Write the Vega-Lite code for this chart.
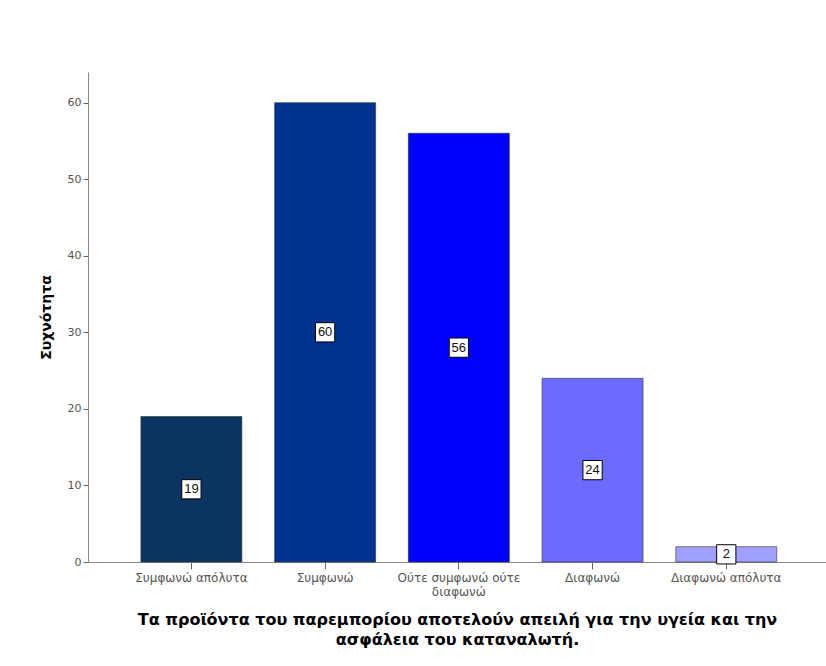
{
  "$schema": "https://vega.github.io/schema/vega-lite/v6.json",
  "autosize": "none",
  "width": 738,
  "height": 490,
  "padding": {"left": 88, "top": 72, "right": 0, "bottom": 104},
  "background": "white",
  "data": {
    "values": [
      {"answer": "Συμφωνώ απόλυτα", "count": 19},
      {"answer": "Συμφωνώ", "count": 60},
      {"answer": "Ούτε συμφωνώ ούτε διαφωνώ", "count": 56},
      {"answer": "Διαφωνώ", "count": 24},
      {"answer": "Διαφωνώ απόλυτα", "count": 2}
    ]
  },
  "transform": [{"calculate": "datum.count / 2", "as": "mid"}],
  "encoding": {
    "x": {
      "field": "answer",
      "type": "nominal",
      "sort": null,
      "scale": {"paddingInner": 0.245, "paddingOuter": 0.382, "align": 0.518},
      "axis": {
        "labelAngle": 0,
        "labelExpr": "datum.label == 'Ούτε συμφωνώ ούτε διαφωνώ' ? ['Ούτε συμφωνώ ούτε', 'διαφωνώ'] : datum.label",
        "labelFont": "DejaVu Sans",
        "labelFontSize": 12,
        "labelColor": "#555555",
        "labelPadding": 3,
        "labelLineHeight": 14,
        "tickSize": 7,
        "tickColor": "#666666",
        "domainColor": "#888888",
        "title": ["Τα προϊόντα του παρεμπορίου αποτελούν απειλή για την υγεία και την", "ασφάλεια του καταναλωτή."],
        "titleFont": "DejaVu Sans",
        "titleFontSize": 16,
        "titleFontWeight": "bold",
        "titleColor": "#000000",
        "titlePadding": 14,
        "titleLineHeight": 20
      }
    }
  },
  "layer": [
    {
      "mark": {"type": "bar", "stroke": "#333333", "strokeWidth": 0.6},
      "encoding": {
        "y": {
          "field": "count",
          "type": "quantitative",
          "scale": {"domain": [0, 64], "nice": false},
          "axis": {
            "values": [0, 10, 20, 30, 40, 50, 60],
            "grid": false,
            "labelFont": "DejaVu Sans",
            "labelFontSize": 11,
            "labelColor": "#555555",
            "tickSize": 5,
            "tickColor": "#666666",
            "domainColor": "#888888",
            "title": "Συχνότητα",
            "titleFont": "DejaVu Sans",
            "titleFontSize": 14,
            "titleFontWeight": "bold",
            "titleColor": "#000000",
            "titlePadding": 14
          }
        },
        "color": {
          "field": "answer",
          "type": "nominal",
          "sort": null,
          "scale": {
            "domain": ["Συμφωνώ απόλυτα", "Συμφωνώ", "Ούτε συμφωνώ ούτε διαφωνώ", "Διαφωνώ", "Διαφωνώ απόλυτα"],
            "range": ["#0b3463", "#003391", "#0000ff", "#6b6bff", "#a0a0ff"]
          },
          "legend": null
        }
      }
    },
    {
      "mark": {"type": "point", "shape": "square", "filled": true, "fill": "white", "stroke": "black", "strokeWidth": 1, "size": 370, "opacity": 1},
      "encoding": {
        "y": {"field": "mid", "type": "quantitative"}
      }
    },
    {
      "mark": {"type": "text", "font": "Liberation Sans", "fontSize": 13, "color": "#111111", "baseline": "middle", "align": "center"},
      "encoding": {
        "y": {"field": "mid", "type": "quantitative"},
        "text": {"field": "count", "type": "quantitative"}
      }
    }
  ],
  "config": {"view": {"stroke": null}}
}
